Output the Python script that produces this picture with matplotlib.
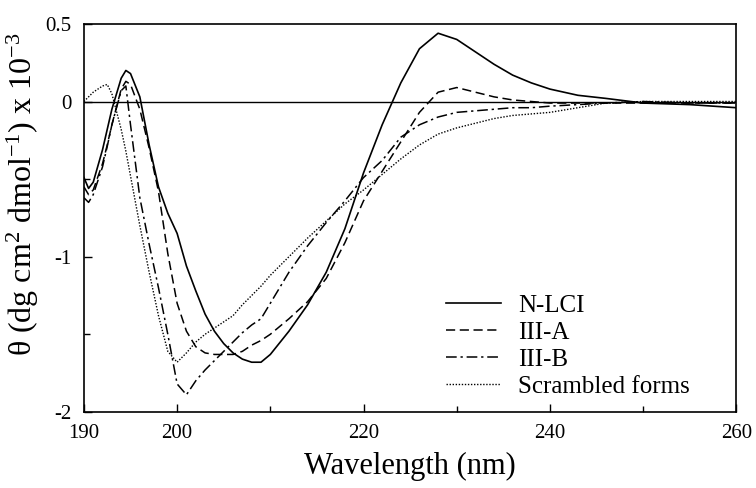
import numpy as np
import matplotlib
matplotlib.use("Agg")
import matplotlib.pyplot as plt
from matplotlib.ticker import FixedLocator

plt.rcParams['font.family'] = ['Liberation Serif', 'DejaVu Serif']
plt.rcParams['mathtext.fontset'] = 'custom'
plt.rcParams['mathtext.rm'] = 'Liberation Serif'
plt.rcParams['mathtext.it'] = 'Liberation Serif:italic'

# wavelength grid (nm)
wavelength = [190, 190.5, 191, 192, 192.5, 193, 194, 194.5, 195, 196, 197, 198, 199,
              200, 201, 202, 203, 204, 205, 206, 207, 208, 209, 210, 212, 214, 216,
              218, 220, 222, 224, 226, 228, 230, 232, 234, 236, 238, 240, 243, 246,
              250, 255, 260]

# mean residue ellipticity x 10^-3
n_lci = [-0.49, -0.56, -0.52, -0.31, -0.18, -0.05, 0.15, 0.20, 0.18, 0.03, -0.28, -0.55, -0.72,
         -0.85, -1.06, -1.22, -1.37, -1.48, -1.56, -1.62, -1.66, -1.68, -1.68, -1.63, -1.48, -1.31, -1.10,
         -0.82, -0.46, -0.15, 0.12, 0.34, 0.44, 0.40, 0.32, 0.24, 0.17, 0.12, 0.08, 0.04, 0.02,
         -0.01, -0.02, -0.04]
iii_a = [-0.55, -0.60, -0.57, -0.40, -0.28, -0.15, 0.08, 0.13, 0.11, -0.05, -0.30, -0.58, -0.98,
         -1.30, -1.48, -1.58, -1.62, -1.63, -1.63, -1.63, -1.61, -1.57, -1.54, -1.50, -1.40, -1.29, -1.14,
         -0.91, -0.64, -0.45, -0.26, -0.07, 0.06, 0.09, 0.06, 0.03, 0.01, 0.0, -0.01, -0.01, -0.01,
         -0.01, -0.01, -0.01]
iii_b = [-0.62, -0.65, -0.60, -0.42, -0.29, -0.15, 0.07, 0.10, -0.15, -0.62, -0.92, -1.20, -1.50,
         -1.82, -1.89, -1.80, -1.73, -1.67, -1.61, -1.55, -1.49, -1.44, -1.40, -1.30, -1.10, -0.93, -0.78,
         -0.64, -0.49, -0.38, -0.23, -0.15, -0.10, -0.07, -0.06, -0.05, -0.04, -0.04, -0.03, -0.02, -0.01,
         0.0, -0.01, -0.01]
scrambled = [0.0, 0.03, 0.06, 0.10, 0.11, 0.05, -0.18, -0.32, -0.48, -0.80, -1.10, -1.38, -1.61,
             -1.68, -1.62, -1.55, -1.50, -1.46, -1.42, -1.38, -1.31, -1.25, -1.19, -1.12, -1.00, -0.88, -0.77,
             -0.66, -0.57, -0.47, -0.37, -0.28, -0.21, -0.17, -0.14, -0.11, -0.09, -0.08, -0.07, -0.04, -0.01,
             0.0, 0.0, 0.0]

fig = plt.figure(figsize=(7.56, 4.88), dpi=100)
ax = fig.add_axes([0.111, 0.156, 0.863, 0.795])

ax.plot(wavelength, n_lci, color='black', lw=1.2, ls='-', label='N-LCI')
ax.plot(wavelength, iii_a, color='black', lw=1.1, ls=(0, (6, 3)), label='III-A')
ax.plot(wavelength, iii_b, color='black', lw=1.1, ls=(0, (7, 2.5, 1.5, 2.5)), label='III-B')
ax.plot(wavelength, scrambled, color='black', lw=1.0, ls=(0, (1, 1.2)), label='Scrambled forms')
ax.axhline(0, color='black', lw=1.0)

ax.set_xlim(190, 260)
ax.set_ylim(-2, 0.5)
ax.set_xticks([190, 200, 220, 240, 260])
ax.xaxis.set_minor_locator(FixedLocator([210, 230, 250]))
ax.set_yticks([-2, -1, 0, 0.5])
ax.set_yticklabels(['-2', '-1', '0', '0.5'])
ax.yaxis.set_minor_locator(FixedLocator([-1.5, -0.5]))
ax.tick_params(which='both', direction='in', labelsize=15, width=1.0)
ax.tick_params(which='major', length=6, pad=9)
ax.tick_params(which='minor', length=4)
for s in ax.spines.values():
    s.set_linewidth(1.2)

ax.set_xlabel('Wavelength (nm)', fontsize=22, labelpad=6)
ax.set_ylabel(r'θ (dg cm$^{2}$ dmol$^{-1}$) x 10$^{-3}$', fontsize=23)
ax.yaxis.set_label_coords(-0.066, 0.56)

ax.legend(loc='upper left', bbox_to_anchor=(0.536, 0.335), frameon=False, fontsize=18,
          handlelength=2.2, handletextpad=0.68, labelspacing=0.18, borderpad=0)

fig.savefig('out.png', dpi=100)
